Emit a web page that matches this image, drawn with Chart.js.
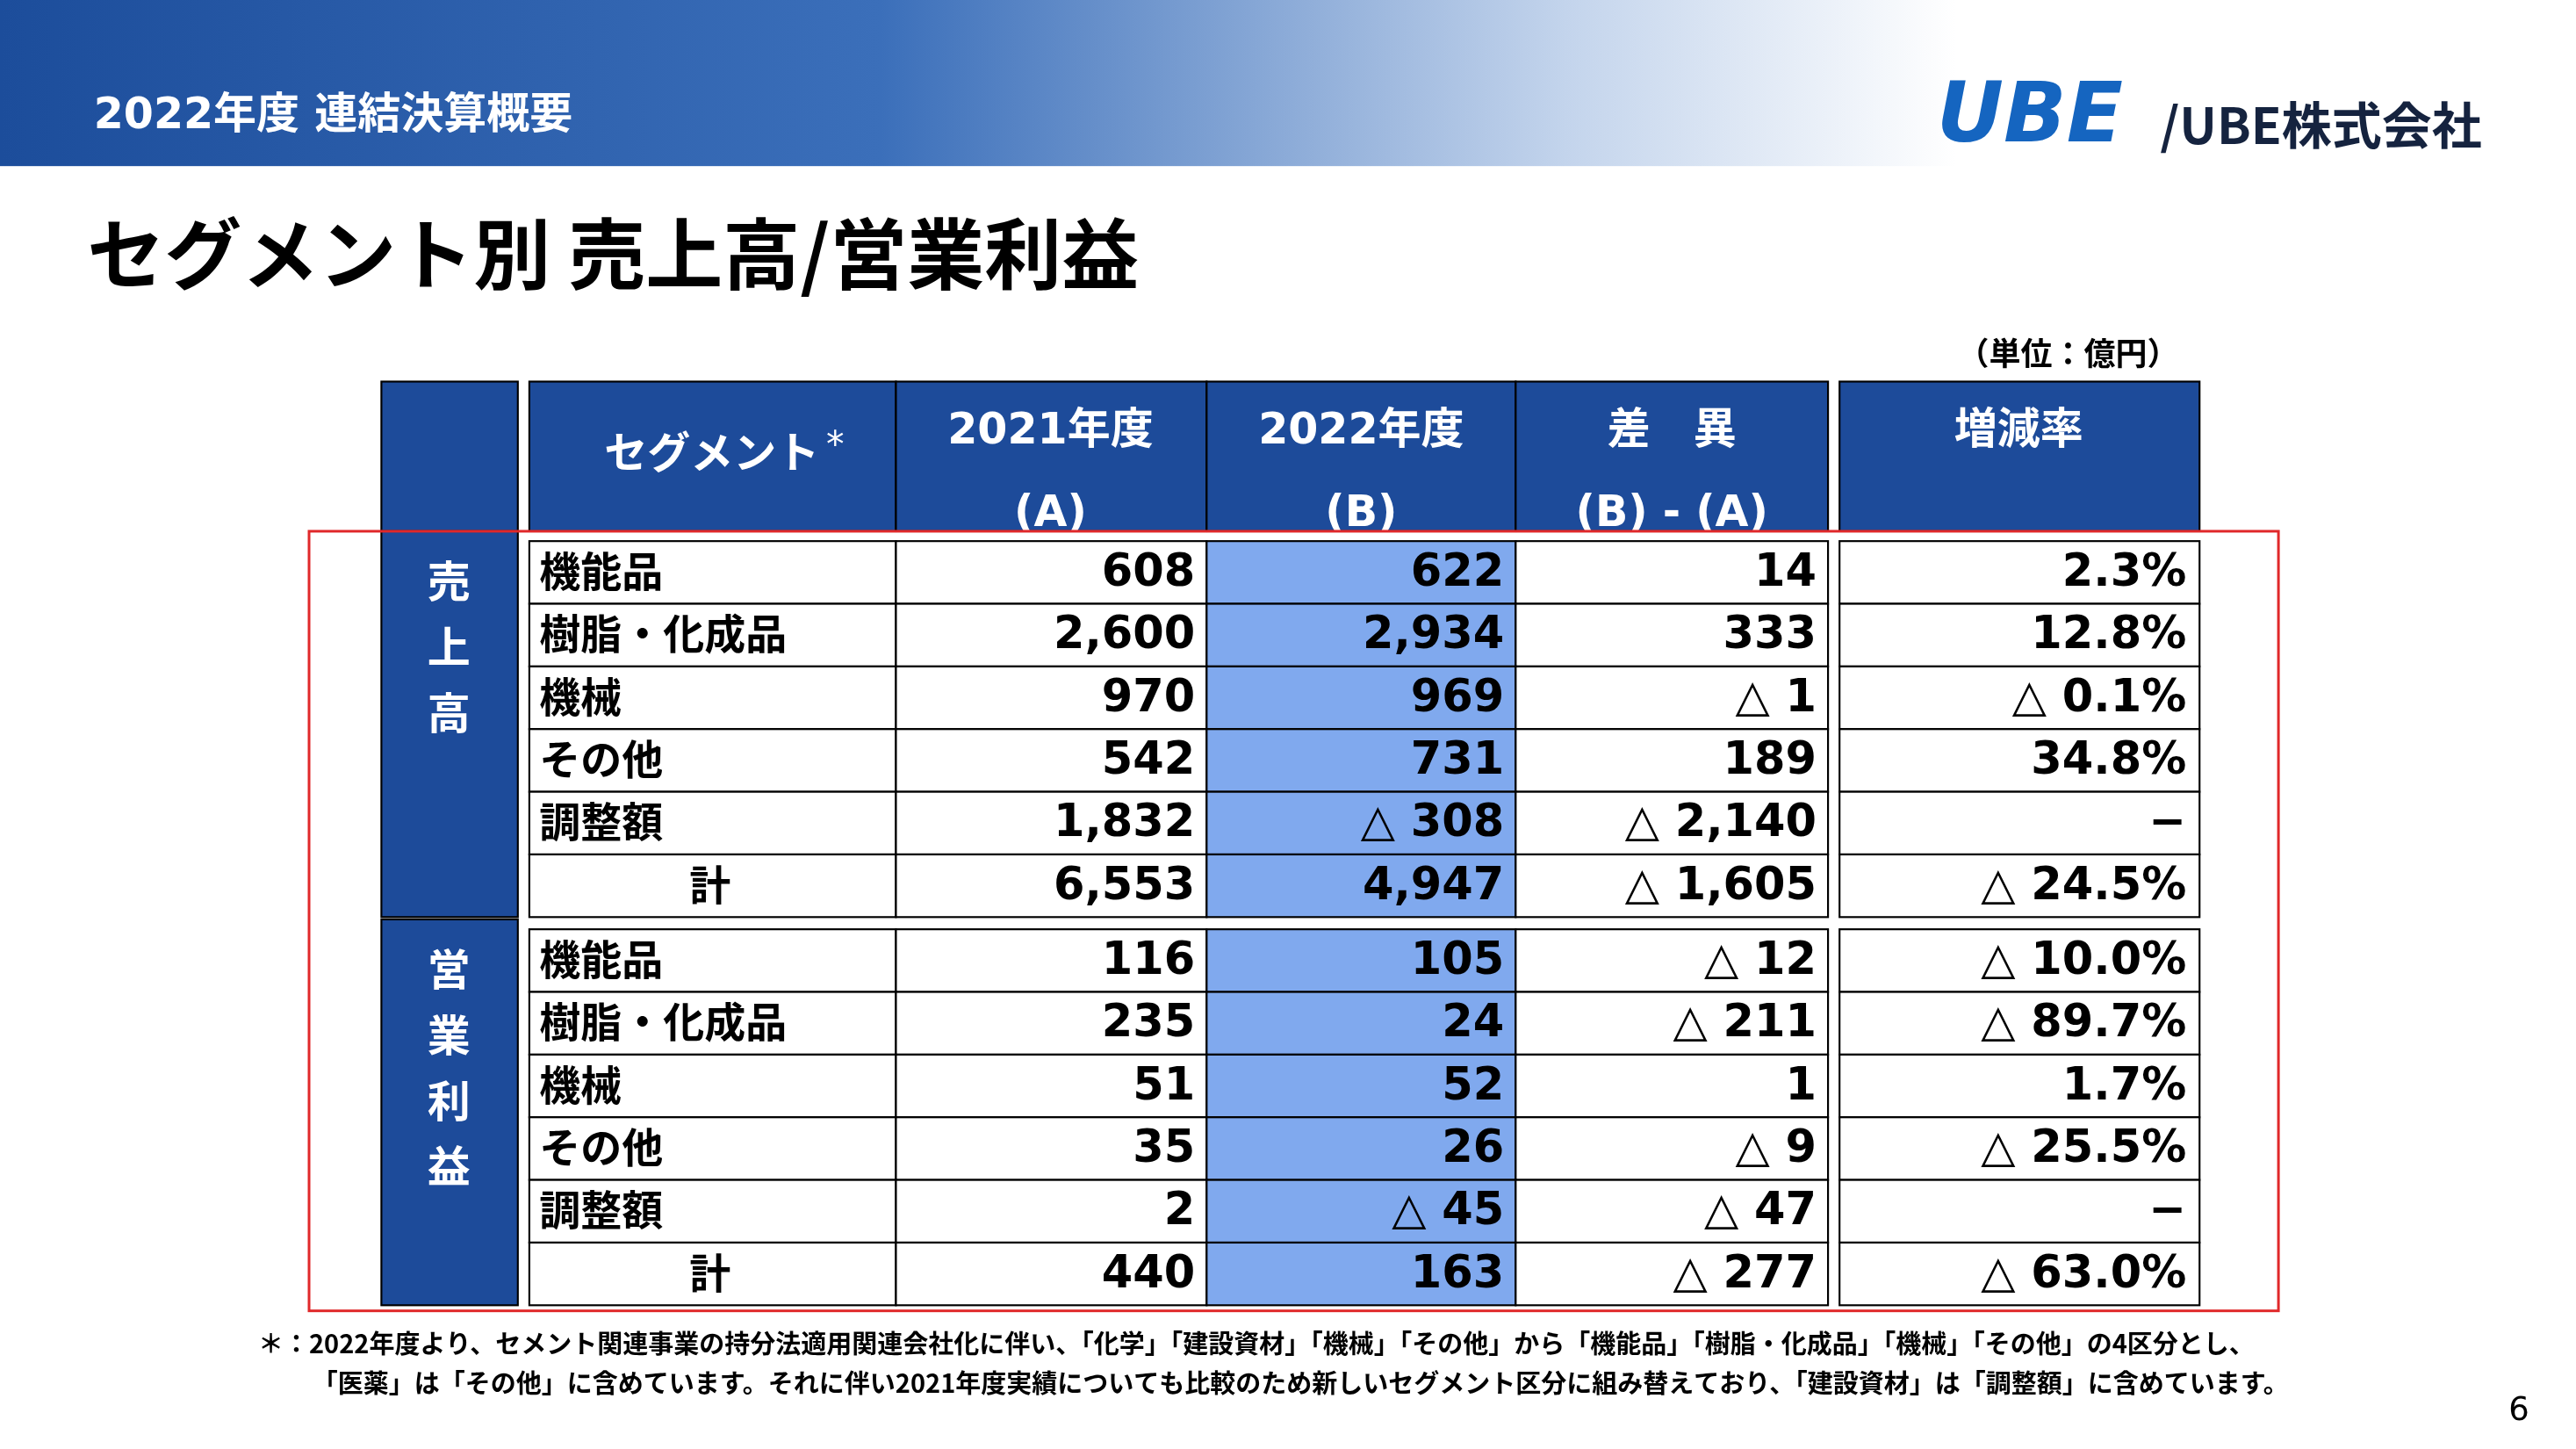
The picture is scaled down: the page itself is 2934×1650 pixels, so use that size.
<!DOCTYPE html>
<html><head><meta charset="utf-8">
<script src="https://cdn.jsdelivr.net/npm/chart.js@4"></script>
<style>html,body{margin:0;padding:0;background:#fff;overflow:hidden}</style>
</head><body>
<canvas id="c" width="2934" height="1650"></canvas>
<script>
// table data (億円), negative shown with △
const segments = ["機能品", "樹脂・化成品", "機械", "その他", "調整額", "計"];
const sales2021 = [608, 2600, 970, 542, 1832, 6553];
const sales2022 = [622, 2934, 969, 731, -308, 4947];
const salesDiff = [14, 333, -1, 189, -2140, -1605];
const salesRate = [2.3, 12.8, -0.1, 34.8, null, -24.5];
const profit2021 = [116, 235, 51, 35, 2, 440];
const profit2022 = [105, 24, 52, 26, -45, 163];
const profitDiff = [-12, -211, 1, -9, -47, -277];
const profitRate = [-10.0, -89.7, 1.7, -25.5, null, -63.0];
const footnote = [
  "＊：2022年度より、セメント関連事業の持分法適用関連会社化に伴い、「化学」「建設資材」「機械」「その他」から「機能品」「樹脂・化成品」「機械」「その他」の4区分とし、",
  "「医薬」は「その他」に含めています。それに伴い2021年度実績についても比較のため新しいセグメント区分に組み替えており、「建設資材」は「調整額」に含めています。"
];

const fmtNum = v => (v < 0 ? "△ " : "") + Math.abs(v).toLocaleString("en-US");
const fmtPct = v => v === null ? "−" : (v < 0 ? "△ " : "") + Math.abs(v).toFixed(1) + "%";

// column edges in layout units
const cols = [322, 545, 734, 922, 1112];
const rateCol = [1119, 1338];
const rowH = 38.1;
const salesTop = 329, profitTop = 565;
const NUM = '"DejaVu Sans", "Noto Sans CJK JP"';
const JP = '"Noto Sans CJK JP"';

const tablePlugin = {
  id: "table",
  afterDraw(chart) {
    const ctx = chart.ctx, xs = chart.scales.x, ys = chart.scales.y;
    const X = v => xs.getPixelForValue(v), Y = v => ys.getPixelForValue(v);
    const k = X(1) - X(0);
    const font = (s, f) => "bold " + Math.round(s * k) + "px " + f;

    // banner
    const g = ctx.createLinearGradient(X(0), 0, X(1190), 0);
    g.addColorStop(0, "#1c4d9b"); g.addColorStop(0.45, "#3b6fba");
    g.addColorStop(0.8, "#c3d4ec"); g.addColorStop(1, "#ffffff");
    ctx.fillStyle = g; ctx.fillRect(X(0), Y(0), X(1190) - X(0), Y(101) - Y(0));
    ctx.fillStyle = "#fff"; ctx.font = font(26, NUM); ctx.textBaseline = "middle"; ctx.textAlign = "left";
    ctx.fillText("2022年度 連結決算概要", X(57), Y(71));
    ctx.fillStyle = "#1565c0"; ctx.font = "italic 900 " + Math.round(50 * k) + "px " + NUM;
    ctx.fillText("UBE", X(1178), Y(73));
    ctx.fillStyle = "#15233f"; ctx.font = font(30.5, JP);
    ctx.fillText("/UBE株式会社", X(1314), Y(76));

    // title
    ctx.fillStyle = "#000"; ctx.font = font(47, JP);
    ctx.fillText("セグメント別 売上高/営業利益", X(53), Y(154));
    ctx.font = font(19, JP); ctx.textAlign = "center";
    ctx.fillText("（単位：億円）", X(1258), Y(215));

    const box = (x0, y0, x1, y1, fill) => {
      ctx.fillStyle = fill; ctx.fillRect(X(x0), Y(y0), X(x1) - X(x0), Y(y1) - Y(y0));
      ctx.strokeStyle = "#000"; ctx.lineWidth = 2.2 * k / 1.9;
      ctx.strokeRect(X(x0), Y(y0), X(x1) - X(x0), Y(y1) - Y(y0));
    };
    const navy = "#1d4b9a", light = "#80a9ee";

    // header
    box(232, 232, 315, 323, navy);
    for (let i = 0; i < 4; i++) box(cols[i], 232, cols[i + 1], 323, navy);
    box(rateCol[0], 232, rateCol[1], 323, navy);
    ctx.fillStyle = "#fff"; ctx.textAlign = "center";
    ctx.font = font(26, NUM);
    ctx.fillText("セグメント", X(433), Y(278));
    ctx.font = Math.round(22 * k) + "px " + NUM; ctx.fillText("*", X(508), Y(272));
    ctx.font = font(26, NUM);
    ctx.fillText("2021年度", X(639), Y(263)); ctx.fillText("(A)", X(639), Y(313));
    ctx.fillText("2022年度", X(828), Y(263)); ctx.fillText("(B)", X(828), Y(313));
    ctx.fillText("差　異", X(1017), Y(263)); ctx.fillText("(B) - (A)", X(1017), Y(313));
    ctx.fillText("増減率", X(1228), Y(263));

    const block = (top, label, a, b, d, r) => {
      const bottom = top + rowH * 6;
      box(232, top - 6, 315, bottom, navy);
      ctx.fillStyle = "#fff"; ctx.font = font(26, JP); ctx.textAlign = "center";
      label.forEach((ch, i) => ctx.fillText(ch, X(273), Y(top + 24 + i * 40)));
      segments.forEach((s, i) => {
        const y0 = top + i * rowH, y1 = y0 + rowH, ym = y0 + rowH / 2 + 1;
        box(cols[0], y0, cols[1], y1, "#fff");
        box(cols[1], y0, cols[2], y1, "#fff");
        box(cols[2], y0, cols[3], y1, light);
        box(cols[3], y0, cols[4], y1, "#fff");
        box(rateCol[0], y0, rateCol[1], y1, "#fff");
        ctx.fillStyle = "#000"; ctx.font = font(25, JP);
        if (i === 5) { ctx.textAlign = "center"; ctx.fillText(s, X(432), Y(ym - 2)); }
        else { ctx.textAlign = "left"; ctx.fillText(s, X(328), Y(ym - 2)); }
        ctx.font = font(27, NUM); ctx.textAlign = "right";
        ctx.fillText(fmtNum(a[i]), X(cols[2] - 7), Y(ym));
        ctx.fillText(fmtNum(b[i]), X(cols[3] - 7), Y(ym));
        ctx.fillText(fmtNum(d[i]), X(cols[4] - 7), Y(ym));
        ctx.fillText(fmtPct(r[i]), X(rateCol[1] - 8), Y(ym));
      });
    };
    block(salesTop, ["売", "上", "高"], sales2021, sales2022, salesDiff, salesRate);
    block(profitTop, ["営", "業", "利", "益"], profit2021, profit2022, profitDiff, profitRate);

    // red frame
    ctx.strokeStyle = "#e0282a"; ctx.lineWidth = 3;
    ctx.strokeRect(X(188), Y(323), X(1386) - X(188), Y(797) - Y(323));

    // footnote
    ctx.fillStyle = "#000"; ctx.font = font(15.5, JP); ctx.textAlign = "left";
    ctx.fillText(footnote[0], X(157), Y(817));
    ctx.fillText(footnote[1], X(190), Y(841));
    ctx.font = Math.round(20 * k) + "px " + NUM;
    ctx.fillText("6", X(1526), Y(858));
  }
};

new Chart(document.getElementById("c"), {
  type: "scatter",
  data: { datasets: [{ data: [] }] },
  options: {
    responsive: false, animation: false, devicePixelRatio: 1,
    layout: { padding: 0 },
    plugins: { legend: { display: false }, tooltip: { enabled: false } },
    scales: {
      x: { type: "linear", min: 0, max: 1567, display: false },
      y: { type: "linear", min: 0, max: 881, reverse: true, display: false }
    }
  },
  plugins: [tablePlugin]
});
</script>
</body></html>
